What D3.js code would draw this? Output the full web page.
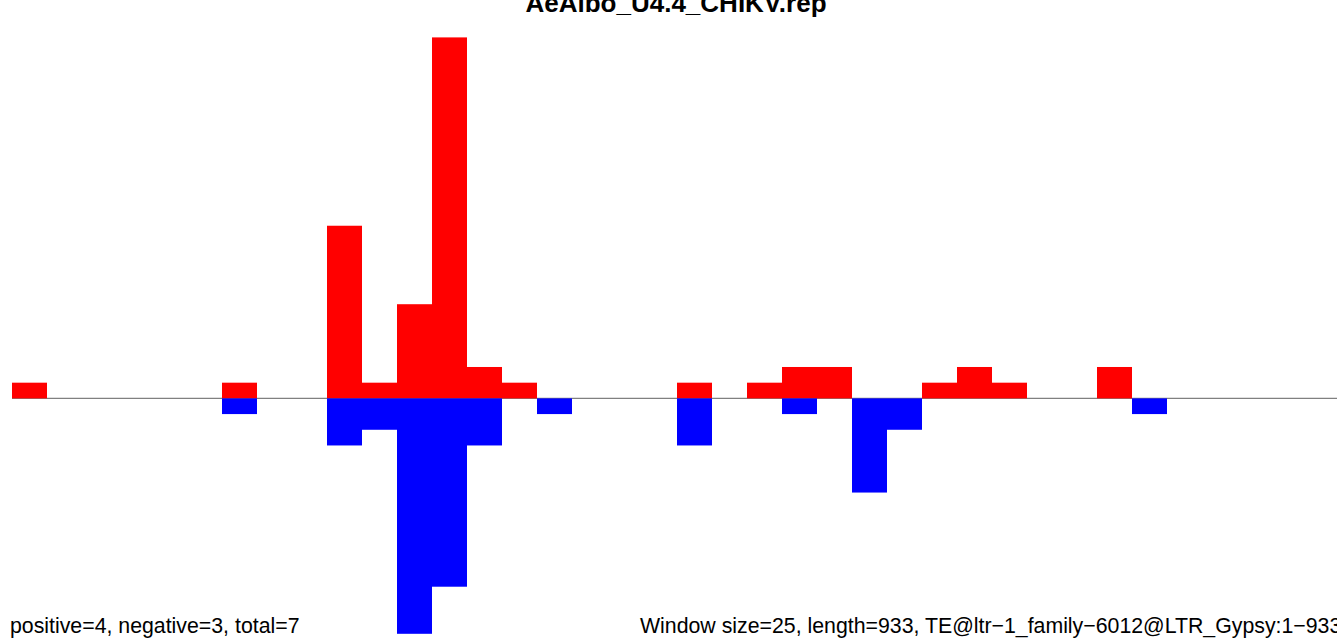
<!DOCTYPE html>
<html>
<head>
<meta charset="utf-8">
<script src="https://cdn.jsdelivr.net/npm/d3@7"></script>
<style>
  body { margin: 0; background: #fff; }
  text { font-family: "Liberation Sans", Arial, sans-serif; }
</style>
</head>
<body>
<div id="chart"></div>
<script>
// window counts (25 bp windows)
var windowSize = 25;
var seqLength = 933;
var positive = [1,0,0,0,0,0,1,0,0,11,1,6,23,2,1,0,0,0,0,1,0,1,2,2,0,0,1,2,1,0,0,2,0,0,0,0,0,0];
var negative = [0,0,0,0,0,0,1,0,0,3,2,15,12,3,0,1,0,0,0,3,0,0,1,0,6,2,0,0,0,0,0,0,1,0,0,0,0,0];
var title = "AeAlbo_U4.4_CHIKV.rep";
var leftNote = "positive=4, negative=3, total=7";
var rightNote = "Window size=25, length=933, TE@ltr\u22121_family\u22126012@LTR_Gypsy:1\u2212933";

var W = 1337, H = 639;

var svg = d3.select("#chart")
    .append("svg")
    .attr("width", W)
    .attr("height", H);

var x = d3.scaleLinear()
    .domain([0, seqLength])
    .range([12, 12 + seqLength * 1.4]);

var y = d3.scaleLinear()
    .domain([-15, 23])
    .range([633.8, 37.4]);

var bins = positive.map(function (p, i) {
    return { start: i * windowSize, end: (i + 1) * windowSize, pos: p, neg: negative[i] };
});

// baseline
svg.append("line")
    .attr("x1", x(0))
    .attr("x2", W)
    .attr("y1", y(0))
    .attr("y2", y(0))
    .attr("stroke", "#808080")
    .attr("stroke-width", 1.2);

svg.selectAll("rect.pos")
    .data(bins.filter(d => d.pos > 0))
    .enter()
    .append("rect")
    .attr("class", "pos")
    .attr("x", d => x(d.start))
    .attr("width", d => x(d.end) - x(d.start))
    .attr("y", d => y(d.pos))
    .attr("height", d => y(0) - y(d.pos))
    .attr("fill", "#ff0000");

svg.selectAll("rect.neg")
    .data(bins.filter(d => d.neg > 0))
    .enter()
    .append("rect")
    .attr("class", "neg")
    .attr("x", d => x(d.start))
    .attr("width", d => x(d.end) - x(d.start))
    .attr("y", y(0))
    .attr("height", d => y(-d.neg) - y(0))
    .attr("fill", "#0000ff");

svg.append("text")
    .attr("x", 676)
    .attr("y", 12)
    .attr("text-anchor", "middle")
    .style("font-size", "26px")
    .style("font-weight", "bold")
    .text(title);

svg.append("text")
    .attr("x", 10)
    .attr("y", 633)
    .style("font-size", "21.3px")
    .text(leftNote);

svg.append("text")
    .attr("x", 640)
    .attr("y", 633)
    .style("font-size", "21.3px")
    .text(rightNote);
</script>
</body>
</html>
